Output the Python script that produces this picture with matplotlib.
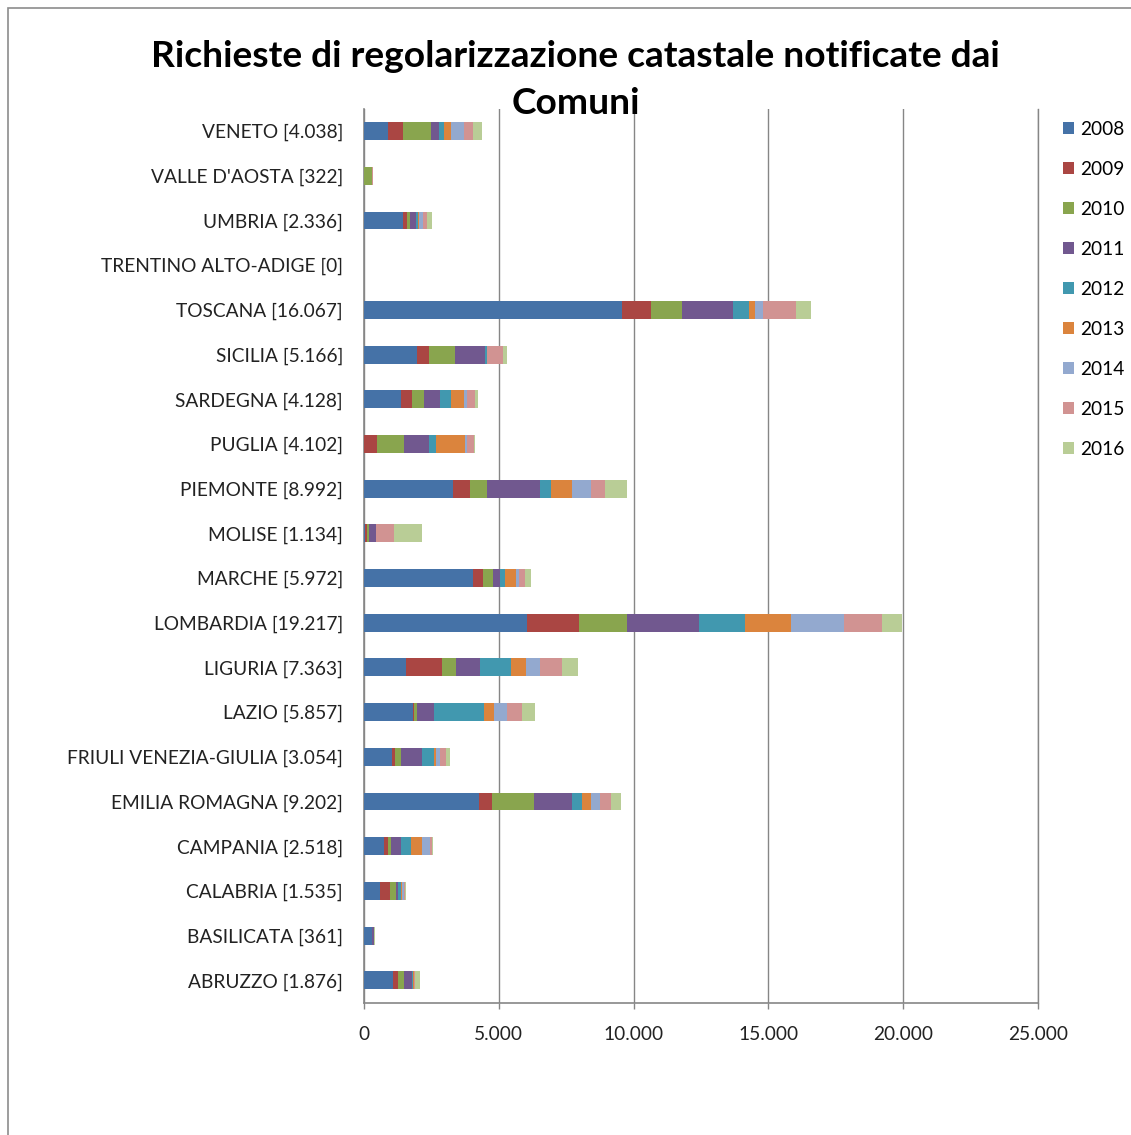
import matplotlib
matplotlib.use("Agg")
import matplotlib.pyplot as plt
from matplotlib.patches import Rectangle
from matplotlib.ticker import FuncFormatter
import numpy as np

plt.rcParams['font.family'] = ['Lato', 'DejaVu Sans']

# regioni dall'alto verso il basso
regioni = ["VENETO [4.038]", "VALLE D'AOSTA [322]", "UMBRIA [2.336]",
           "TRENTINO ALTO-ADIGE [0]", "TOSCANA [16.067]", "SICILIA [5.166]",
           "SARDEGNA [4.128]", "PUGLIA [4.102]", "PIEMONTE [8.992]",
           "MOLISE [1.134]", "MARCHE [5.972]", "LOMBARDIA [19.217]",
           "LIGURIA [7.363]", "LAZIO [5.857]", "FRIULI VENEZIA-GIULIA [3.054]",
           "EMILIA ROMAGNA [9.202]", "CAMPANIA [2.518]", "CALABRIA [1.535]",
           "BASILICATA [361]", "ABRUZZO [1.876]"]

anni = ["2008", "2009", "2010", "2011", "2012", "2013", "2014", "2015", "2016"]
colori = ["#4572A7", "#AA4643", "#89A54E", "#71588F", "#4198AF",
          "#DB843D", "#93A9CF", "#D19392", "#B9CD96"]

v2008 = [885, 0, 1437, 0, 9568, 1953, 1364, 0, 3292, 25, 4034, 6032, 1560, 1806, 1044, 4275, 737, 602, 307, 1093]
v2009 = [553, 0, 160, 0, 1073, 467, 430, 491, 627, 98, 370, 1931, 1327, 37, 123, 467, 160, 369, 0, 184]
v2010 = [1032, 307, 110, 0, 1171, 946, 430, 983, 627, 74, 384, 1786, 516, 110, 197, 1572, 110, 233, 0, 197]
v2011 = [319, 0, 233, 0, 1862, 1106, 590, 946, 1966, 258, 251, 2672, 909, 627, 786, 1413, 356, 74, 49, 319]
v2012 = [184, 0, 74, 0, 592, 74, 430, 246, 430, 0, 198, 1706, 1143, 1855, 430, 356, 393, 86, 0, 37]
v2013 = [270, 0, 37, 0, 247, 0, 479, 1093, 786, 0, 397, 1706, 553, 393, 86, 356, 381, 61, 0, 37]
v2014 = [479, 0, 147, 0, 271, 20, 86, 61, 676, 0, 119, 1971, 504, 479, 147, 307, 295, 74, 0, 0]
v2015 = [319, 30, 147, 0, 1258, 590, 307, 246, 553, 663, 225, 1415, 835, 541, 233, 405, 74, 25, 0, 37]
v2016 = [319, 0, 197, 0, 555, 160, 110, 37, 811, 1032, 212, 754, 577, 504, 135, 369, 37, 25, 49, 172]

serie = [v2008, v2009, v2010, v2011, v2012, v2013, v2014, v2015, v2016]

fig = plt.figure(figsize=(11.31, 11.35), dpi=100)
fig.patches.append(Rectangle((0.007, -0.01), 1.0, 1.003, transform=fig.transFigure,
                             fill=False, edgecolor="#8c8c8c", linewidth=1.2))

ax = fig.add_axes([0.3218, 0.1166, 0.596, 0.7876])

y = np.arange(len(regioni))
left = np.zeros(len(regioni))
for anno, valori, col in zip(anni, serie, colori):
    valori = np.array(valori)
    ax.barh(y, valori, left=left, height=0.4, color=col, label=anno, zorder=3)
    left = left + valori

ax.set_ylim(len(regioni) - 0.5, -0.5)
ax.set_yticks(y)
ax.set_yticklabels(regioni, fontsize=13.8, color="#222222")
ax.set_xlim(0, 25000)
ax.set_xticks(np.arange(0, 25001, 5000))
ax.xaxis.set_major_formatter(FuncFormatter(lambda v, p: f"{int(v):,}".replace(",", ".")))
ax.tick_params(axis="x", length=4.5, width=1, labelsize=13.8, pad=12, colors="#222222")
ax.tick_params(axis="x", color="#868686")
ax.tick_params(axis="y", length=0, pad=15)
ax.grid(axis="x", color="#868686", linewidth=1, zorder=0)
for s in ["top", "right"]:
    ax.spines[s].set_visible(False)
for s in ["left", "bottom"]:
    ax.spines[s].set_color("#868686")
    ax.spines[s].set_linewidth(1.2)
ax.plot([1, 1], [0, 1], transform=ax.transAxes, color="#868686", linewidth=1, clip_on=False)

fig.text(0.509, 0.950, "Richieste di regolarizzazione catastale notificate dai",
         ha="center", va="center", fontsize=26.7, fontweight="bold")
fig.text(0.509, 0.909, "Comuni", ha="center", va="center", fontsize=26.7, fontweight="bold")

fig.legend(loc="upper left", bbox_to_anchor=(0.933, 0.9), frameon=False,
           fontsize=13.8, handlelength=0.6, handleheight=0.6, handletextpad=0.3,
           labelspacing=1.2, borderaxespad=0)

fig.savefig("out.png", dpi=100)
